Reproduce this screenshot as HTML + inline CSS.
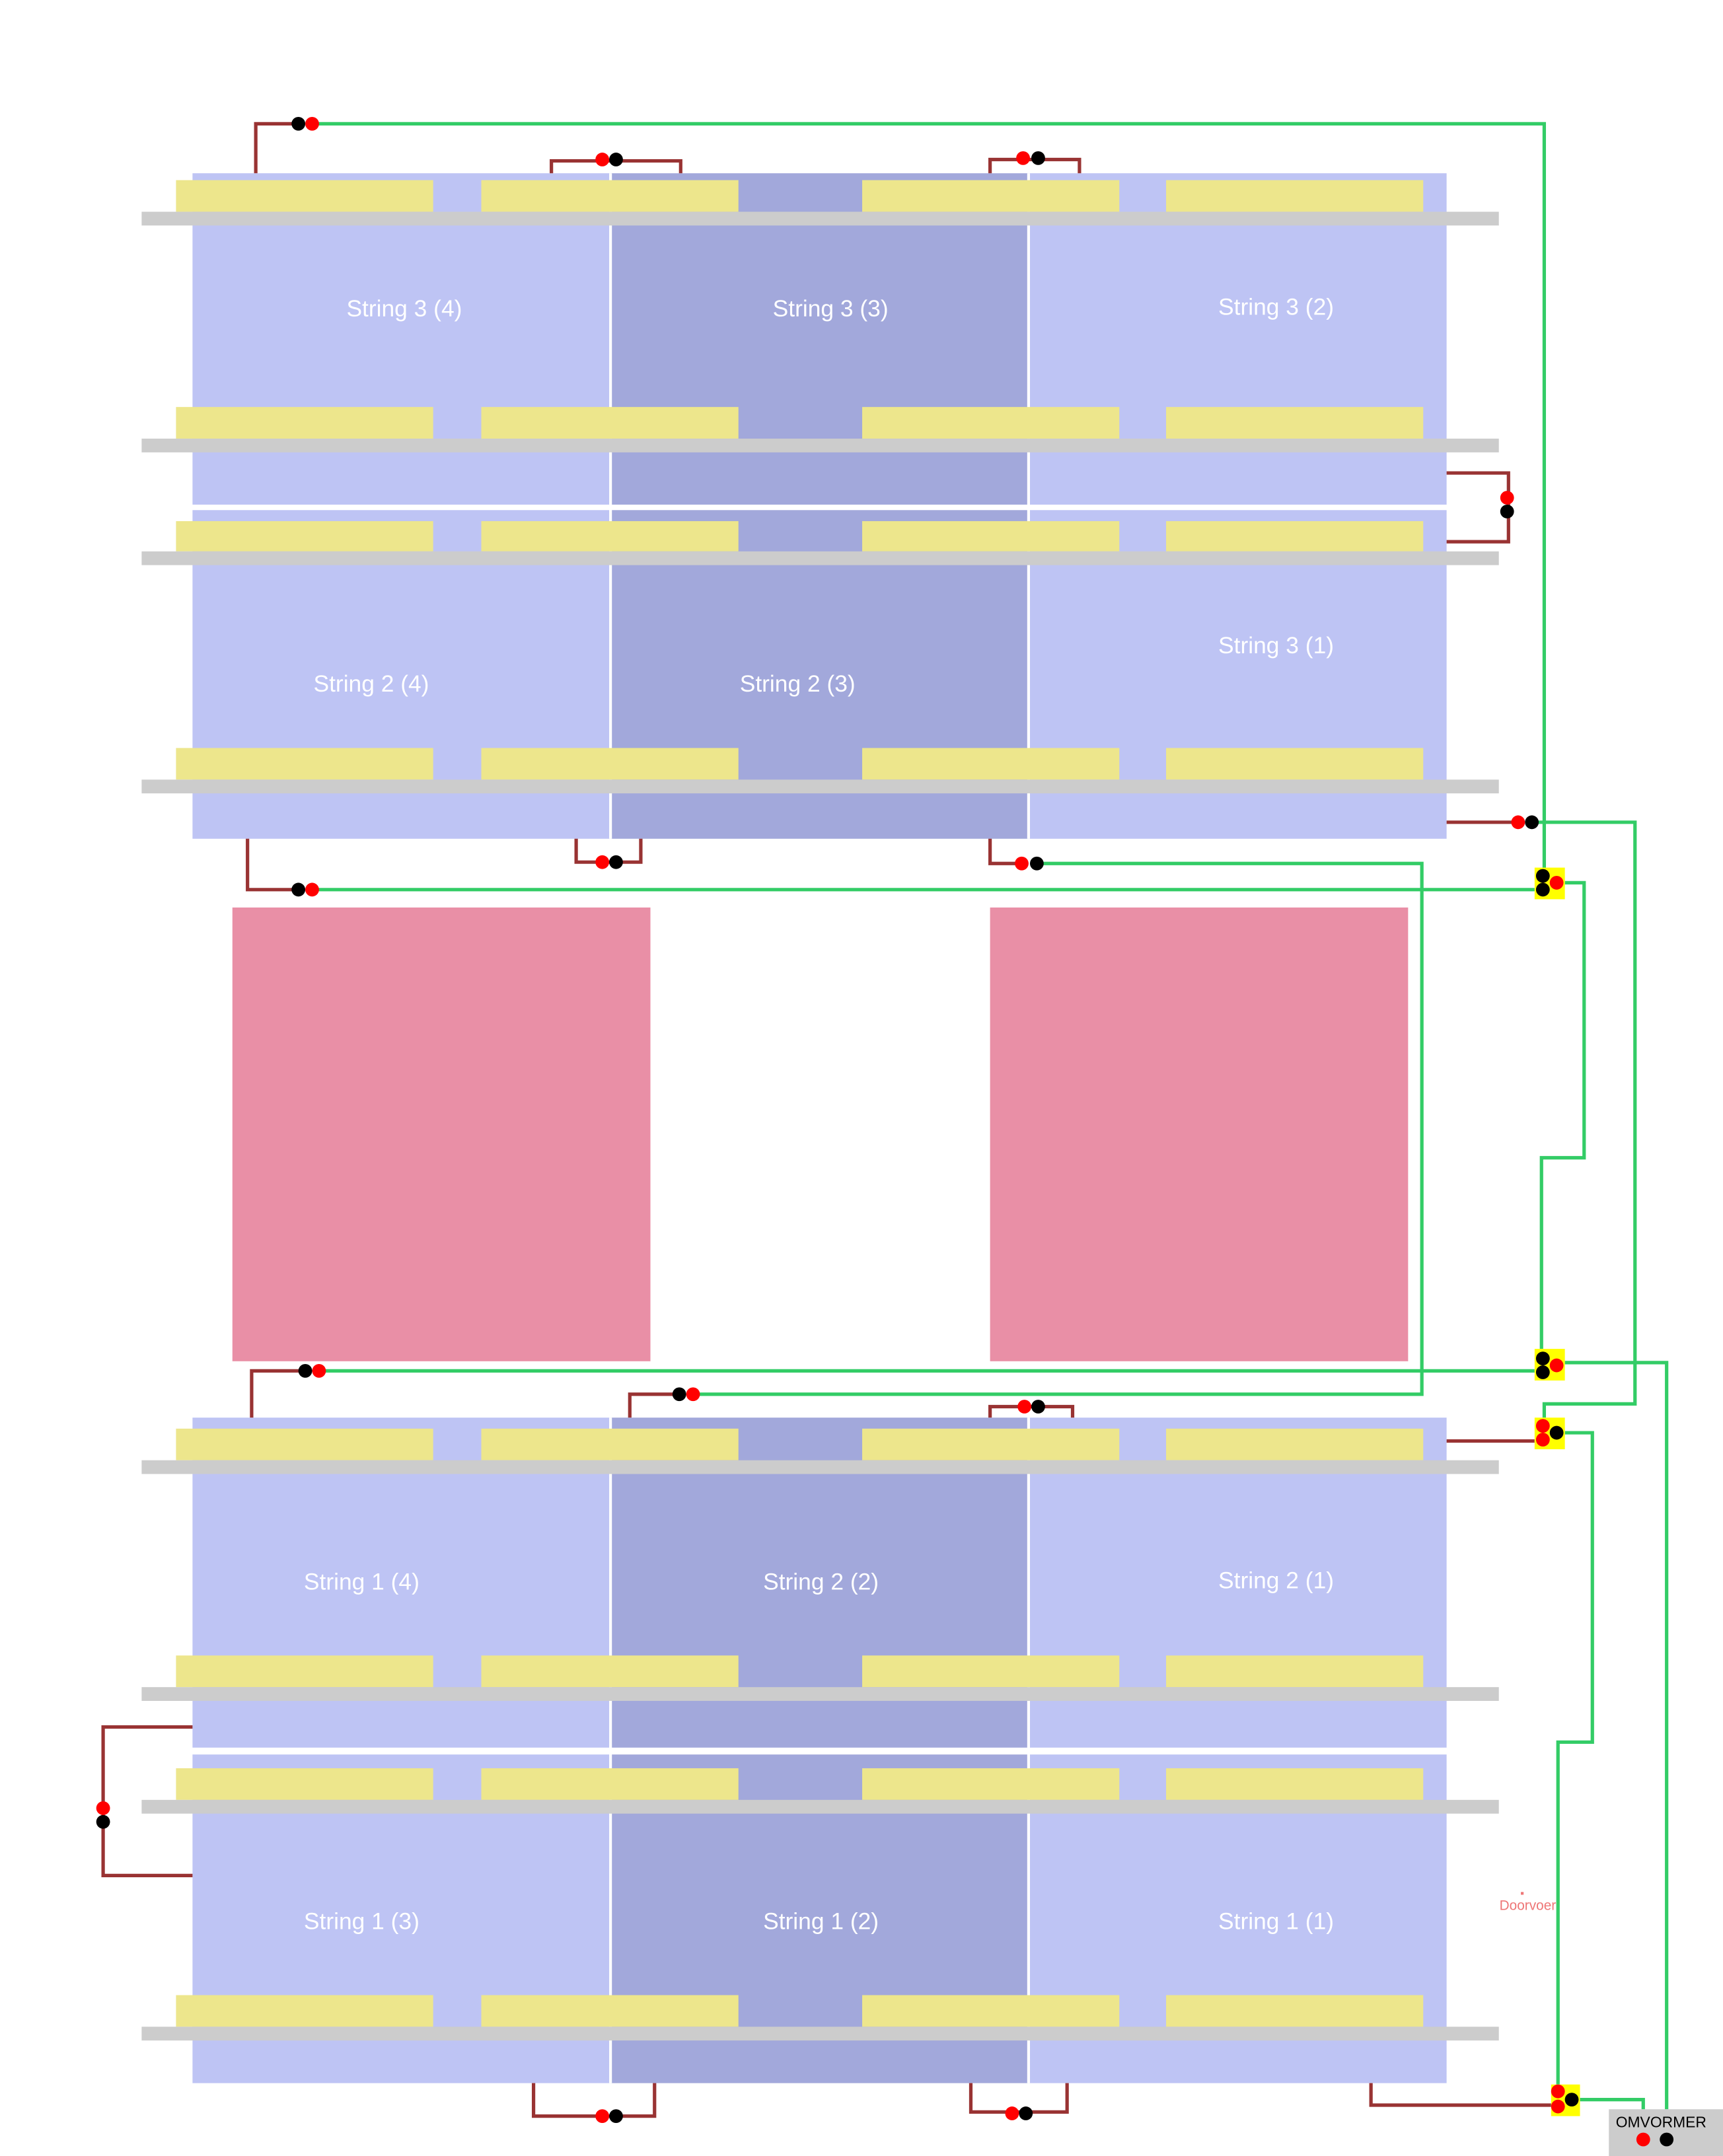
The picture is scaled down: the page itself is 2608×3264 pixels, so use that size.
<!DOCTYPE html>
<html><head><meta charset="utf-8"><style>html,body{margin:0;padding:0;background:#fff}svg{display:block}</style></head>
<body>
<svg width="2608" height="3264" viewBox="0 0 1253 1568" preserveAspectRatio="none" xmlns="http://www.w3.org/2000/svg" font-family="Liberation Sans, sans-serif">
<rect width="1253" height="1568" fill="#fff"/>
<!-- top block -->
<g>
<rect x="140" y="126" width="304" height="241" fill="#bec4f4"/>
<rect x="444" y="126" width="304" height="241" fill="#a2a8db"/>
<rect x="748" y="126" width="304" height="241" fill="#bec4f4"/>
<rect x="140" y="371" width="304" height="239" fill="#bec4f4"/>
<rect x="444" y="371" width="304" height="239" fill="#a2a8db"/>
<rect x="748" y="371" width="304" height="239" fill="#bec4f4"/>
<rect x="443" y="126" width="2" height="484" fill="#fff"/>
<rect x="747" y="126" width="2" height="484" fill="#fff"/>
</g>
<g>
<rect x="140" y="1031" width="304" height="240" fill="#bec4f4"/>
<rect x="444" y="1031" width="304" height="240" fill="#a2a8db"/>
<rect x="748" y="1031" width="304" height="240" fill="#bec4f4"/>
<rect x="140" y="1276" width="304" height="239" fill="#bec4f4"/>
<rect x="444" y="1276" width="304" height="239" fill="#a2a8db"/>
<rect x="748" y="1276" width="304" height="239" fill="#bec4f4"/>
<rect x="443" y="1031" width="2" height="484" fill="#fff"/>
<rect x="747" y="1031" width="2" height="484" fill="#fff"/>
</g>
<!-- yellow + gray rows -->
<g fill="#ede68c">
<rect x="128" y="131" width="187" height="23"/><rect x="350" y="131" width="187" height="23"/><rect x="627" y="131" width="187" height="23"/><rect x="848" y="131" width="187" height="23"/>
<rect x="128" y="296" width="187" height="23"/><rect x="350" y="296" width="187" height="23"/><rect x="627" y="296" width="187" height="23"/><rect x="848" y="296" width="187" height="23"/>
<rect x="128" y="379" width="187" height="22"/><rect x="350" y="379" width="187" height="22"/><rect x="627" y="379" width="187" height="22"/><rect x="848" y="379" width="187" height="22"/>
<rect x="128" y="544" width="187" height="23"/><rect x="350" y="544" width="187" height="23"/><rect x="627" y="544" width="187" height="23"/><rect x="848" y="544" width="187" height="23"/>
<rect x="128" y="1039" width="187" height="23"/><rect x="350" y="1039" width="187" height="23"/><rect x="627" y="1039" width="187" height="23"/><rect x="848" y="1039" width="187" height="23"/>
<rect x="128" y="1204" width="187" height="23"/><rect x="350" y="1204" width="187" height="23"/><rect x="627" y="1204" width="187" height="23"/><rect x="848" y="1204" width="187" height="23"/>
<rect x="128" y="1286" width="187" height="23"/><rect x="350" y="1286" width="187" height="23"/><rect x="627" y="1286" width="187" height="23"/><rect x="848" y="1286" width="187" height="23"/>
<rect x="128" y="1451" width="187" height="23"/><rect x="350" y="1451" width="187" height="23"/><rect x="627" y="1451" width="187" height="23"/><rect x="848" y="1451" width="187" height="23"/>
</g>
<g fill="#cccccc">
<rect x="103" y="154" width="987" height="10"/><rect x="103" y="319" width="987" height="10"/>
<rect x="103" y="401" width="987" height="10"/><rect x="103" y="567" width="987" height="10"/>
<rect x="103" y="1062" width="987" height="10"/><rect x="103" y="1227" width="987" height="10"/>
<rect x="103" y="1309" width="987" height="10"/><rect x="103" y="1474" width="987" height="10"/>
</g>
<!-- labels -->
<g fill="#fff" font-size="17" text-anchor="middle">
<text x="294" y="230">String 3 (4)</text><text x="604" y="230">String 3 (3)</text><text x="928" y="229">String 3 (2)</text>
<text x="270" y="503">String 2 (4)</text><text x="580" y="503">String 2 (3)</text><text x="928" y="475">String 3 (1)</text>
<text x="263" y="1156">String 1 (4)</text><text x="597" y="1156">String 2 (2)</text><text x="928" y="1155">String 2 (1)</text>
<text x="263" y="1403">String 1 (3)</text><text x="597" y="1403">String 1 (2)</text><text x="928" y="1403">String 1 (1)</text>
</g>
<!-- pink -->
<rect x="169" y="660" width="304" height="330" fill="#e98fa6"/>
<rect x="720" y="660" width="304" height="330" fill="#e98fa6"/>
<!-- red wires -->
<g fill="none" stroke="#993333" stroke-width="2.5">
<polyline points="186,126 186,90 217,90"/>
<polyline points="401,126 401,117 495,117 495,126"/>
<polyline points="720,126 720,116 785,116 785,126"/>
<polyline points="1052,344 1097,344 1097,394 1052,394"/>
<polyline points="1052,598 1104,598"/>
<polyline points="180,610 180,647 217,647"/>
<polyline points="419,610 419,627 466,627 466,610"/>
<polyline points="720,610 720,628 743,628"/>
<polyline points="183,1031 183,997 222,997"/>
<polyline points="458,1031 458,1014 494,1014"/>
<polyline points="720,1031 720,1023 780,1023 780,1031"/>
<polyline points="1052,1048 1116,1048"/>
<polyline points="140,1256 75,1256 75,1364 140,1364"/>
<polyline points="388,1515 388,1539 476,1539 476,1515"/>
<polyline points="706,1515 706,1536 776,1536 776,1515"/>
<polyline points="997,1515 997,1531 1128,1531"/>
</g>
<!-- green wires -->
<g fill="none" stroke="#33cc66" stroke-width="2.5">
<polyline points="227,90 1123,90 1123,631"/>
<polyline points="1114,598 1189,598 1189,1021 1123,1021 1123,1031"/>
<polyline points="227,647 1116,647"/>
<polyline points="754,628 1034,628 1034,1014 504,1014"/>
<polyline points="1138,642 1152,642 1152,842 1121,842 1121,981"/>
<polyline points="232,997 1116,997"/>
<polyline points="1138,991 1212,991 1212,1534"/>
<polyline points="1138,1042 1158,1042 1158,1267 1133,1267 1133,1516"/>
<polyline points="1149,1527 1195,1527 1195,1534"/>
</g>
<!-- junction boxes -->
<g fill="#ffff00">
<rect x="1116" y="631" width="22" height="23"/><rect x="1116" y="981" width="22" height="23"/>
<rect x="1116" y="1031" width="22" height="23"/><rect x="1128" y="1516" width="21" height="23"/>
</g>
<!-- dots -->
<g fill="#000">
<circle cx="217" cy="90" r="5"/><circle cx="448" cy="116" r="5"/><circle cx="755" cy="115" r="5"/>
<circle cx="1096" cy="372" r="5"/><circle cx="1114" cy="598" r="5"/><circle cx="217" cy="647" r="5"/>
<circle cx="448" cy="627" r="5"/><circle cx="754" cy="628" r="5"/><circle cx="222" cy="997" r="5"/>
<circle cx="494" cy="1014" r="5"/><circle cx="755" cy="1023" r="5"/><circle cx="75" cy="1325" r="5"/>
<circle cx="448" cy="1539" r="5"/><circle cx="746" cy="1537" r="5"/>
<circle cx="1122" cy="637" r="5"/><circle cx="1122" cy="647" r="5"/>
<circle cx="1122" cy="988" r="5"/><circle cx="1122" cy="998" r="5"/>
<circle cx="1132" cy="1042" r="5"/><circle cx="1143" cy="1527" r="5"/>
</g>
<g fill="#ff0000">
<circle cx="227" cy="90" r="5"/><circle cx="438" cy="116" r="5"/><circle cx="744" cy="115" r="5"/>
<circle cx="1096" cy="362" r="5"/><circle cx="1104" cy="598" r="5"/><circle cx="227" cy="647" r="5"/>
<circle cx="438" cy="627" r="5"/><circle cx="743" cy="628" r="5"/><circle cx="232" cy="997" r="5"/>
<circle cx="504" cy="1014" r="5"/><circle cx="745" cy="1023" r="5"/><circle cx="75" cy="1315" r="5"/>
<circle cx="438" cy="1539" r="5"/><circle cx="736" cy="1537" r="5"/>
<circle cx="1132" cy="642" r="5"/><circle cx="1132" cy="993" r="5"/>
<circle cx="1122" cy="1037" r="5"/><circle cx="1122" cy="1047" r="5"/>
<circle cx="1133" cy="1521" r="5"/><circle cx="1133" cy="1532" r="5"/>
</g>
<!-- omvormer -->
<rect x="1170" y="1534" width="83" height="34" fill="#cccccc"/>
<text x="1208" y="1547" font-size="11" text-anchor="middle" fill="#000">OMVORMER</text>
<circle cx="1195" cy="1556" r="5" fill="#ff0000"/>
<circle cx="1212" cy="1556" r="5" fill="#000"/>
<!-- doorvoer -->
<rect x="1106" y="1376" width="2" height="2" fill="#ee7777"/>
<text x="1111" y="1389" font-size="10" text-anchor="middle" fill="#ee7777">Doorvoer</text>
</svg>
</body></html>
